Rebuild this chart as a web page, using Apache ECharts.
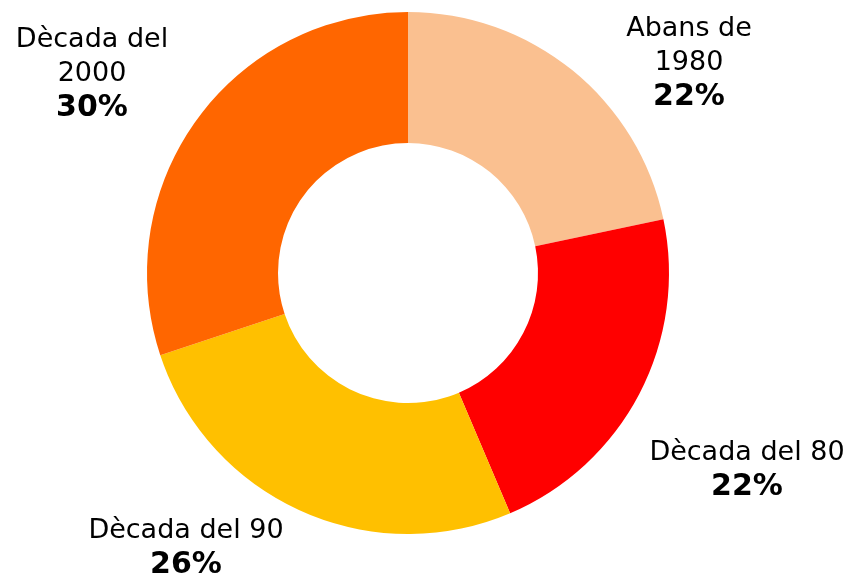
<!DOCTYPE html>
<html>
<head>
<meta charset="utf-8">
<script src="https://cdn.jsdelivr.net/npm/echarts@6/dist/echarts.min.js"></script>
<style>
  html, body { margin: 0; padding: 0; background: #fff; }
  #pie { width: 853px; height: 575px; }
</style>
</head>
<body>
<div id="pie"></div>
<script>
// dades
const periodes = ['Abans de\n1980', 'Dècada del 80', 'Dècada del 90', 'Dècada del\n2000'];
const valors = [21.7, 21.9, 26.3, 30.1];
const colors = ['#FAC090', '#FF0000', '#FFC000', '#FF6600'];

// posició de cada etiqueta (centre del bloc de text)
const labelPos = [[689, 63], [747, 470], [186, 548], [92, 74]];

let pie = echarts.init(document.getElementById('pie'));
let option = {
  backgroundColor: '#fff',
  animation: false,
  series: [
    {
      type: 'pie',
      center: [408, 273],
      radius: [130, 261],
      startAngle: 90,
      clockwise: true,
      data: periodes.map((p, i) => ({
        name: p,
        value: valors[i],
        itemStyle: { color: colors[i] }
      })),
      label: {
        show: true,
        position: 'outside',
        overflow: 'none',
        fontFamily: 'DejaVu Sans',
        fontSize: 27,
        lineHeight: 34,
        color: '#000',
        align: 'center',
        formatter: p => p.name + '\n{b|' + Math.round(p.percent) + '%}',
        rich: {
          b: { fontFamily: 'DejaVu Sans', fontSize: 30, fontWeight: 'bold', lineHeight: 34, color: '#000' }
        }
      },
      labelLine: { show: false },
      labelLayout: params => ({
        x: labelPos[params.dataIndex][0],
        y: labelPos[params.dataIndex][1],
        align: 'center',
        verticalAlign: 'middle'
      }),
      emphasis: { disabled: true }
    }
  ]
};
pie.setOption(option);
</script>
</body>
</html>
